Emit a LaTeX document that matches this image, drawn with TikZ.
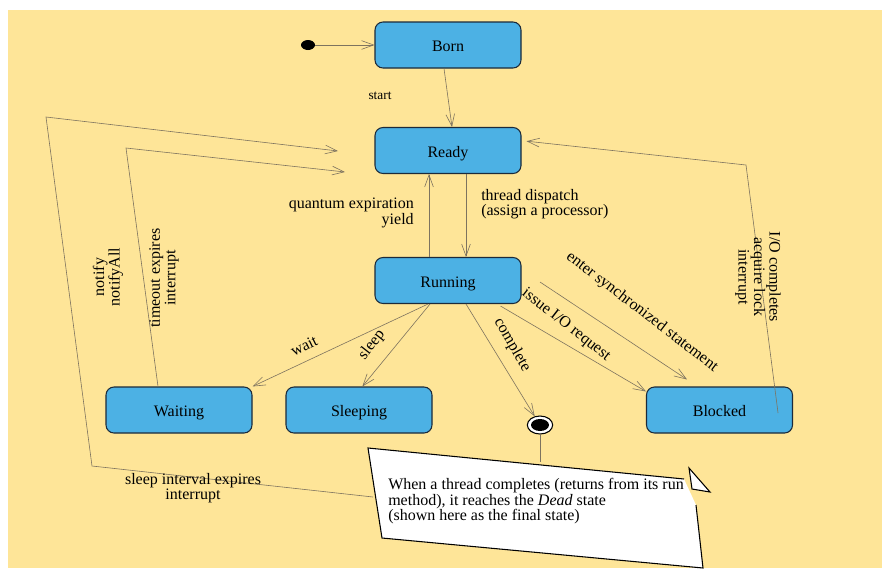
\documentclass[tikz,border=0pt]{standalone}
\usepackage{fontspec}
\setmainfont{Liberation Serif}
\usetikzlibrary{arrows.meta,shapes.geometric}
\definecolor{bgyellow}{RGB}{254,229,152}
\definecolor{stateblue}{RGB}{76,177,228}
\definecolor{stateline}{RGB}{28,42,58}
\definecolor{trline}{RGB}{125,115,95}
\tikzset{
  state/.style={draw=stateline,line width=0.8pt,fill=stateblue,rounded corners=6pt,
    minimum width=109.5pt,minimum height=34.5pt,inner sep=0pt,text height=10pt,text depth=0pt},
  tr/.style={draw=trline,line width=0.45pt,-{Straight Barb[length=9pt,width=6.5pt]}},
  trlab/.style={inner sep=0pt,align=center},
}
\begin{document}
\begin{tikzpicture}[x=0.75pt,y=-0.75pt,font=\fontsize{12}{11.6}\selectfont]
\useasboundingbox (0,0) rectangle (882,568);
\fill[bgyellow] (8,10) rectangle (882,568);
% states
\node[state] (born) at (448,45) {Born};
\node[state] (ready) at (448,150.5) {Ready};
\node[state] (running) at (448,280.5) {Running};
\node[state] (waiting) at (179,410) {Waiting};
\node[state] (sleeping) at (359,410) {Sleeping};
\node[state] (blocked) at (719.5,410) {Blocked};
\node[ellipse,fill,inner sep=0pt,minimum width=10.5pt,minimum height=7.5pt] (init) at (308,45) {};
\node[ellipse,draw,fill=white,line width=0.8pt,inner sep=0pt,minimum width=19pt,minimum height=13.5pt] (final) at (540,425) {};
\fill (final) ellipse [x radius=9,y radius=6];
% note
\fill[white] (368,448) -- (684,479) -- (696,505) -- (703,568) -- (382,538) -- cycle;
\draw[line width=0.8pt] (684,479) -- (368,448) -- (382,538) -- (703,568) -- (696,505);
\draw[line width=0.8pt,fill=white] (689,468) -- (692,489) -- (710,492) -- cycle;
\node[anchor=north west,align=left,inner sep=0pt] (note) at (388,478)
  {When a thread completes (returns from its run\\method), it reaches the \textit{Dead} state\\(shown here as the final state)};
\coordinate (notetop) at (540,462);
\coordinate (noteleft) at (373,497);
% transitions
\draw[tr] (init) -- (born);
\draw[tr] ([xshift=-3pt]born.south) -- ([xshift=3pt]ready.north);
\node[font=\fontsize{10}{11}\selectfont] (lstart) at (380,96) {start};
\draw[tr] ([xshift=13.5pt]ready.south) -- ([xshift=13.5pt]running.north);
\node[trlab,anchor=west,align=left] (ldispatch) at (481,204) {thread dispatch\\(assign a processor)};
\draw[tr] ([xshift=-14.25pt]running.north) -- ([xshift=-14.25pt]ready.south);
\node[trlab,anchor=east,align=right] (lquantum) at (414,213) {quantum expiration\\yield};
\draw[tr] ([xshift=-15pt]running.south) -- (waiting.north east);
\node[trlab,rotate=26] (lwait) at (304,346) {wait};
\draw[tr] ([xshift=-13.5pt]running.south) -- ([xshift=2.5pt]sleeping.north);
\node[trlab,rotate=52] (lsleep) at (372,345) {sleep};
\draw[tr] ([xshift=13.5pt]running.south) -- (final);
\node[trlab,rotate=-60] (lcomplete) at (512,345) {complete};
\draw[tr] ([xshift=-15.75pt,yshift=-1.5pt]running.south east) -- ([yshift=-3.75pt]blocked.north west);
\node[trlab,rotate=-38] (lissue) at (566,325) {issue I/O request};
\coordinate (sync) at (540,282);
\draw[tr] (sync) -- ([xshift=-24.4pt,yshift=5.25pt]blocked.north);
\node[trlab,rotate=-37.5] (lsync) at (642,312) {enter synchronized statement};
\coordinate (bk) at (746,165);
\draw[tr] ([xshift=-11.25pt,yshift=-2.25pt]blocked.east) -- (bk) -- ([xshift=3.75pt,yshift=7pt]ready.east);
\node[trlab,rotate=-90] (lio) at (758,277) {I/O completes\\acquire lock\\interrupt};
\coordinate (tw1) at (126,148);
\coordinate (tw2) at (345,172);
\draw[tr] ([xshift=-15.75pt]waiting.north) -- (tw1) -- (tw2);
\node[trlab,rotate=90] (ltimeout) at (164,278) {timeout expires\\interrupt};
\coordinate (nw1) at (92,466);
\coordinate (nw2) at (46,117);
\coordinate (nw3) at (338,151);
\draw[tr] (noteleft) -- (nw1) -- (nw2) -- (nw3);
\node[trlab,rotate=90] (lnotify) at (108,277) {notify\\notifyAll};
\node[trlab] (lsleepint) at (193,488) {sleep interval expires\\interrupt};
\draw[draw=trline,line width=0.45pt] (final) -- (notetop);
\end{tikzpicture}
\end{document}
